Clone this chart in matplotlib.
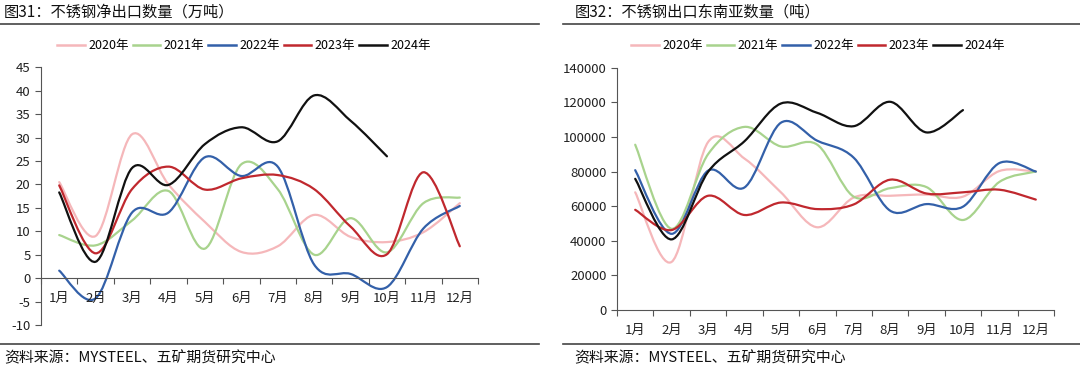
import numpy as np
import matplotlib
matplotlib.use("Agg")
from matplotlib import pyplot as plt
from matplotlib.path import Path
from matplotlib.patches import PathPatch
from matplotlib.lines import Line2D

plt.rcParams["font.family"] = ["Noto Sans CJK SC", "DejaVu Sans"]
plt.rcParams["axes.unicode_minus"] = False

months = ["1月", "2月", "3月", "4月", "5月", "6月", "7月", "8月", "9月", "10月", "11月", "12月"]
years = ["2020年", "2021年", "2022年", "2023年", "2024年"]
colors = ["#F5B7BA", "#A8D38D", "#3360A9", "#C0282E", "#111111"]

# net exports, 10k tonnes
net_2020 = [20.5, 9.0, 30.7, 20.0, 12.0, 5.6, 6.8, 13.5, 8.8, 7.7, 9.8, 16.0]
net_2021 = [9.2, 7.0, 12.3, 18.6, 6.3, 24.3, 19.0, 5.0, 12.8, 5.5, 16.0, 17.2]
net_2022 = [1.6, -4.3, 14.0, 14.0, 25.8, 21.8, 23.8, 2.9, 0.9, -1.9, 10.6, 15.4]
net_2023 = [19.8, 5.3, 19.0, 23.8, 18.9, 21.3, 22.0, 19.0, 11.0, 5.1, 22.6, 6.8]
net_2024 = [18.3, 3.5, 23.5, 19.9, 28.6, 32.2, 29.2, 39.0, 33.6, 26.0]

# exports to Southeast Asia, tonnes
sea_2020 = [68000, 27800, 97000, 87500, 68000, 47800, 65000, 66000, 66700, 65500, 80300, 80000]
sea_2021 = [95500, 46900, 90000, 105800, 94500, 95500, 65500, 70400, 71000, 52000, 74000, 80000]
sea_2022 = [80800, 44000, 80500, 70800, 108200, 97800, 88000, 57400, 61200, 59700, 84900, 80000]
sea_2023 = [57900, 46200, 66000, 54900, 62100, 58300, 61000, 75300, 67300, 68000, 69500, 63800]
sea_2024 = [75800, 40800, 79800, 97500, 119300, 113900, 106200, 120300, 102600, 115500]


def smooth_path(values):
    # cubic bezier through every data point (Excel-like smoothed line)
    pts = np.column_stack([np.arange(len(values)), values]).astype(float)
    ext = np.vstack([pts[0], pts, pts[-1]])
    verts = [pts[0]]
    codes = [Path.MOVETO]
    for i in range(1, len(ext) - 2):
        p0, p1, p2, p3 = ext[i - 1], ext[i], ext[i + 1], ext[i + 2]
        verts += [p1 + (p2 - p0) / 6, p2 - (p3 - p1) / 6, p2]
        codes += [Path.CURVE4] * 3
    return Path(verts, codes)


def draw_panel(fig, rect, series, ylim, ystep, zero_axis):
    ax = fig.add_axes(rect)
    for vals, c in zip(series, colors):
        ax.add_patch(PathPatch(smooth_path(vals), facecolor="none", edgecolor=c,
                               linewidth=1.6, capstyle="round", joinstyle="round"))
    ax.set_xlim(-0.5, 11.5)
    ax.set_ylim(*ylim)
    ax.set_yticks(np.arange(ylim[0], ylim[1] + ystep / 2, ystep))
    ax.set_xticks(np.arange(-0.5, 12, 1))
    ax.set_xticklabels([])
    ax.set_xticks(np.arange(12), minor=True)
    ax.set_xticklabels(months, minor=True)
    ax.tick_params(axis="x", which="minor", length=0, pad=10, labelsize=9.5, colors="#222222")
    ax.tick_params(axis="x", which="major", length=4, color="#555555")
    ax.tick_params(axis="y", length=4, labelsize=9.5, colors="#222222", color="#555555")
    for s in ["top", "right"]:
        ax.spines[s].set_visible(False)
    ax.spines["left"].set_color("#555555")
    ax.spines["bottom"].set_color("#555555")
    if zero_axis:
        ax.spines["bottom"].set_position(("data", 0))
    return ax


W, H = 1080, 372
fig = plt.figure(figsize=(W / 100, H / 100), dpi=100)


def fx(px):
    return px / W


def fy(py):
    return 1 - py / H


# left panel
draw_panel(fig, [fx(41), fy(325), fx(437), (325 - 67.3) / H],
           [net_2020, net_2021, net_2022, net_2023, net_2024], (-10, 45), 5, True)
# right panel
draw_panel(fig, [fx(617), fy(310), fx(437), (310 - 67.7) / H],
           [sea_2020, sea_2021, sea_2022, sea_2023, sea_2024], (0, 140000), 20000, False)

# titles, rules and source lines
fig.text(fx(4), fy(12), "图31：不锈钢净出口数量（万吨）", fontsize=11, va="center", color="#111111")
fig.text(fx(575), fy(12), "图32：不锈钢出口东南亚数量（吨）", fontsize=11, va="center", color="#111111")
for x0, x1 in [(0, 539), (563, 1080)]:
    for y in [24, 344]:
        fig.add_artist(Line2D([fx(x0), fx(x1)], [fy(y), fy(y)], color="#444444", linewidth=1.2))
fig.text(fx(4), fy(358), "资料来源：MYSTEEL、五矿期货研究中心", fontsize=10.7, va="center", color="#111111")
fig.text(fx(574), fy(358), "资料来源：MYSTEEL、五矿期货研究中心", fontsize=10.7, va="center", color="#111111")

# legends
handles = [Line2D([], [], color=c, linewidth=1.8) for c in colors]
for cx in [244, 818]:
    fig.legend(handles, years, loc="center", bbox_to_anchor=(fx(cx), fy(46)), ncol=5,
               frameon=False, fontsize=9, handlelength=2.2, handletextpad=0.3,
               columnspacing=0.3, borderpad=0)

fig.savefig("out.png", dpi=100)
plt.close(fig)
